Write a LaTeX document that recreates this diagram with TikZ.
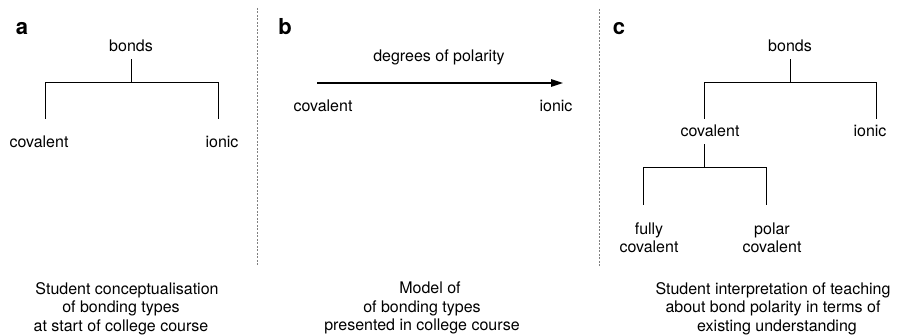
\documentclass[tikz,border=0pt]{standalone}
\usepackage{fontspec}
\setmainfont{TeX Gyre Heros}
\usetikzlibrary{arrows.meta}

\tikzset{
	word/.style={inner sep=0pt, outer sep=4pt, text height=11.5pt, text depth=3.5pt},
	twoline/.style={align=center, anchor=north, inner sep=0pt, outer sep=4pt},
	caption/.style={align=center, anchor=north, inner sep=0pt, font=\fontsize{16}{18.5}\selectfont},
	tag/.style={anchor=base, inner sep=0pt, font=\bfseries\fontsize{22}{24}\selectfont},
	branch/.style={line width=1pt},
	leaf/.style={branch, shorten >=13.5pt},
	polarity/.style={line width=1.5pt, -{Triangle[length=12pt,width=7.5pt]}},
	divider/.style={gray, line width=0.8pt, dash pattern=on 2pt off 1.5pt}
}

\begin{document}
\begin{tikzpicture}[x=1pt, y=-1pt, font=\fontsize{16}{18}\selectfont]
	\useasboundingbox (0,0) rectangle (897,336);

	\node[tag] (taga) at (22,35) {a};
	\node[tag] (tagb) at (285,35) {b};
	\node[tag] (tagc) at (619,35) {c};

	\coordinate (divtop1) at (257,8);
	\coordinate (divbot1) at (257,266);
	\coordinate (divtop2) at (599,9);
	\coordinate (divbot2) at (599,267);
	\draw[divider] (divtop1) -- (divbot1);
	\draw[divider] (divtop2) -- (divbot2);

	% a
	\node[word] (bondsA) at (131,48) {bonds};
	\node[word] (covA) at (39,144) {covalent};
	\node[word] (ionA) at (222,144) {ionic};
	\coordinate (jA) at (131,83);
	\draw[branch] (bondsA) -- (jA);
	\draw[leaf] (jA) -| ([xshift=6pt]covA.north);
	\draw[leaf] (jA) -| ([xshift=-4pt]ionA.north);
	\node[caption] (capA) at (121,282) {\hspace*{12pt}Student conceptualisation\\of bonding types\hspace*{8pt}\\at start of college course};

	% b
	\node[word] (degrees) at (439,57.5) {degrees of polarity};
	\coordinate (tail) at (317,83);
	\coordinate (head) at (563,83);
	\draw[polarity] (tail) -- (head);
	\node[word] (covB) at (323,108) {covalent};
	\node[word] (ionB) at (556,108) {ionic};
	\node[caption] (capB) at (422,282) {\hspace*{16pt}Model of\\of bonding types\\presented in college course};

	% c
	\node[word] (bondsC) at (790,48) {bonds};
	\node[word] (covC) at (710,133) {covalent};
	\node[word] (ionC) at (870,133) {ionic};
	\coordinate (jC) at (790,83);
	\draw[branch] (bondsC) -- (jC);
	\draw[branch, shorten >=2pt] (jC) -| ([xshift=-6pt]covC.north);
	\draw[branch, shorten >=2pt] (jC) -| ([xshift=6pt]ionC.north);

	\node[twoline] (fully) at (649,219) {fully\\covalent};
	\node[twoline] (polar) at (772,219) {polar\\covalent};
	\coordinate (jD) at (704,168);
	\draw[branch] ([xshift=-6pt]covC.south) -- (jD);
	\draw[branch, shorten >=14pt] (jD) -| ([xshift=-6pt]fully.north);
	\draw[branch, shorten >=14pt] (jD) -| ([xshift=-6pt]polar.north);
	\node[caption] (capC) at (773,282) {Student interpretation of teaching\\about bond polarity in terms of\hspace*{16pt}\\\hspace*{8pt}existing understanding};
\end{tikzpicture}
\end{document}
